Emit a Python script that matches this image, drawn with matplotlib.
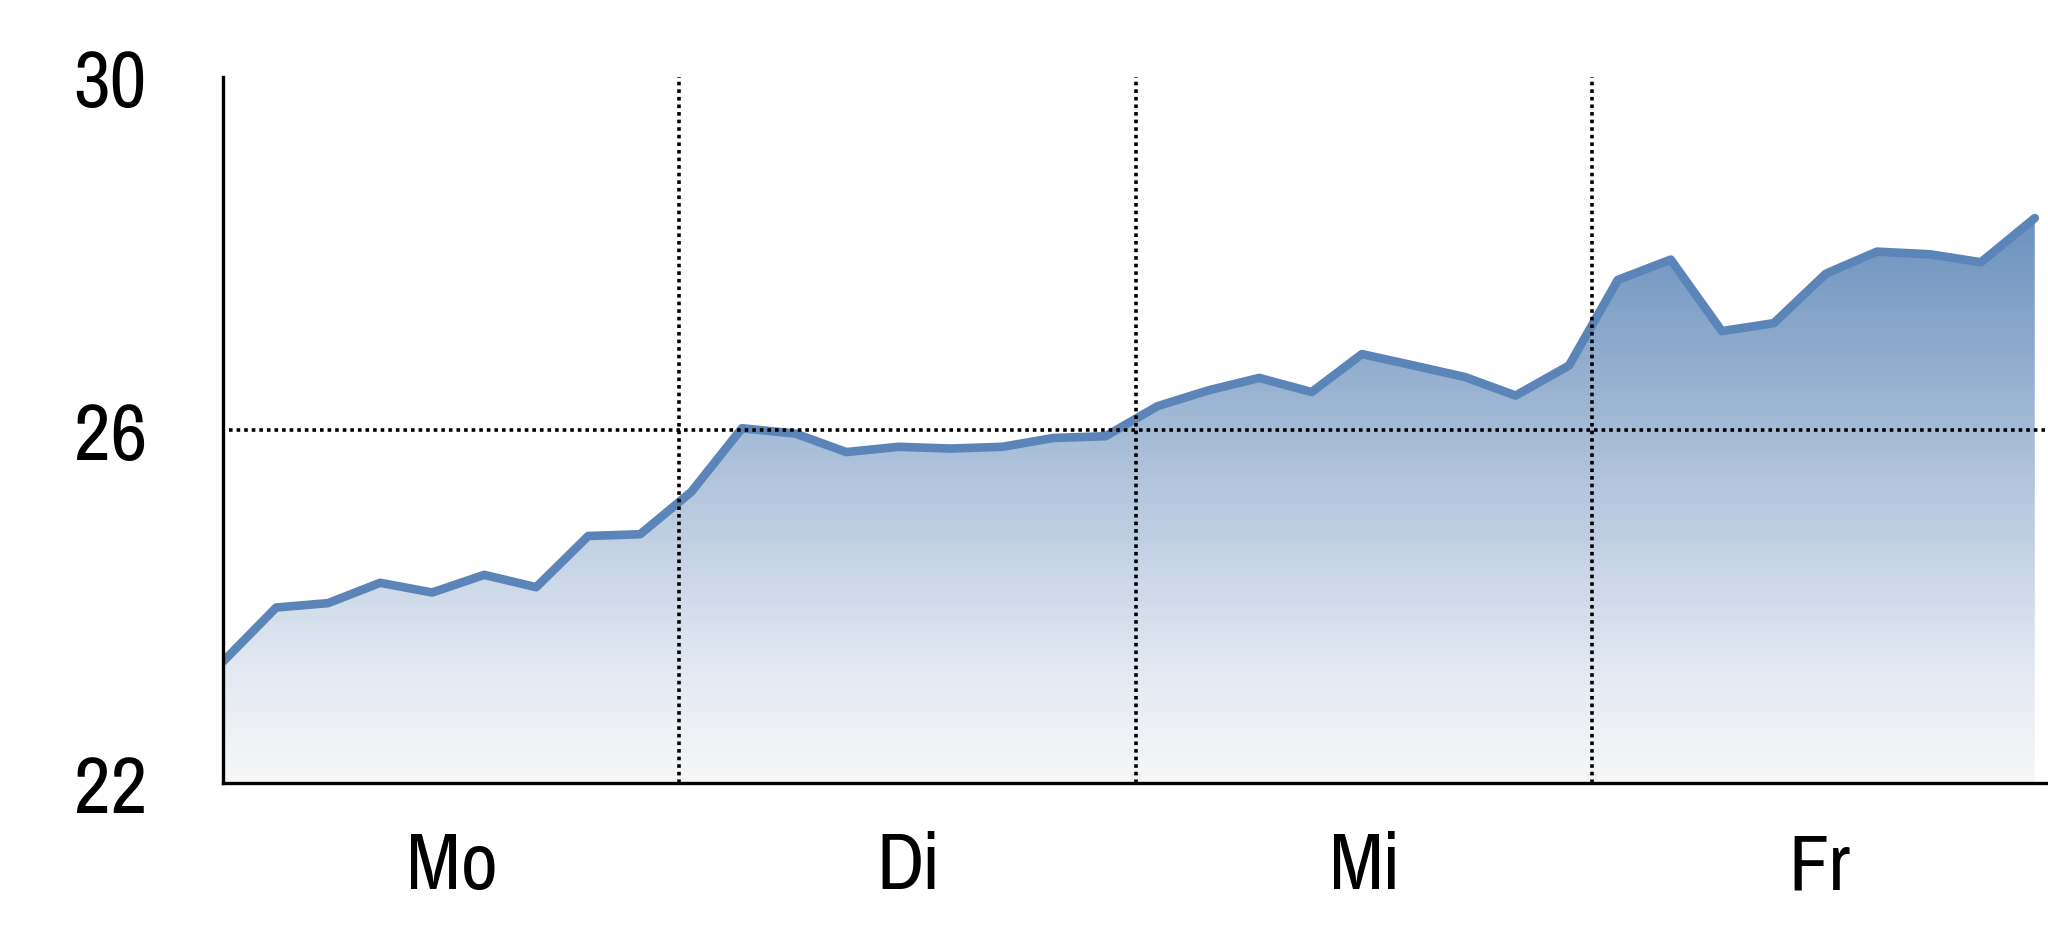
import numpy as np
import matplotlib
matplotlib.use("Agg")
import matplotlib.pyplot as plt
from matplotlib.colors import LinearSegmentedColormap

# time in days (0 = Monday 00:00)
days = [0.000, 0.116, 0.230, 0.344, 0.458, 0.572, 0.686, 0.800, 0.914, 1.026,
        1.137, 1.254, 1.366, 1.480, 1.594, 1.708, 1.820, 1.934, 2.048, 2.160,
        2.271, 2.386, 2.496, 2.610, 2.722, 2.833, 2.950, 3.057, 3.173, 3.285,
        3.399, 3.513, 3.625, 3.741, 3.853, 3.971]
values = [23.38, 23.99, 24.04, 24.27, 24.16, 24.36, 24.22, 24.80, 24.82, 25.30,
          26.02, 25.96, 25.75, 25.81, 25.79, 25.81, 25.91, 25.93, 26.27, 26.45,
          26.59, 26.43, 26.86, 26.73, 26.60, 26.39, 26.73, 27.70, 27.93, 27.12,
          27.21, 27.77, 28.02, 27.99, 27.90, 28.40]

day_labels = ["Mo", "Di", "Mi", "Fr"]
day_centers = [0.5, 1.5, 2.5, 3.5]
day_bounds = [1, 2, 3]
yticks = [22, 26, 30]

line_color = "#5b84b8"

fig = plt.figure(figsize=(20.48, 9.37), dpi=100)
ax = fig.add_axes([0.109, 0.163, 0.891, 0.754])

grad = LinearSegmentedColormap.from_list(
    "g", [(0, "#f7f7f7"), (0.2, "#e3e9f2"), (1, "#6b92be")])
img = ax.imshow(np.linspace(0, 1, 256).reshape(-1, 1), cmap=grad, aspect="auto",
                origin="lower", extent=[0, max(days), 22, max(values)], zorder=1)
poly = ax.fill_between(days, values, 22, color="none", lw=0)
img.set_clip_path(poly.get_paths()[0], transform=ax.transData)

ax.plot(days, values, color=line_color, lw=6.2, solid_capstyle="round",
        solid_joinstyle="round", zorder=3)

for b in day_bounds:
    ax.axvline(b, color="black", lw=2.6, ls=(0, (1, 1.1)), zorder=4)
ax.axhline(26, color="black", lw=2.6, ls=(0, (1, 1.1)), zorder=4, xmin=0.003)

ax.set_xlim(0, 4)
ax.set_ylim(22, 30)

font = ["Pragati Narrow", "Liberation Sans", "DejaVu Sans"]
ax.set_yticks(yticks)
ax.set_yticklabels([str(t) for t in yticks], fontsize=63, family=font)
ax.set_xticks(day_centers)
ax.set_xticklabels(day_labels, fontsize=63, family=font)
ax.tick_params(axis="y", length=0, pad=55)
ax.tick_params(axis="x", length=0, pad=34)

for s in ["top", "right"]:
    ax.spines[s].set_visible(False)
for s in ["left", "bottom"]:
    ax.spines[s].set_linewidth(2.4)
    ax.spines[s].set_zorder(5)

fig.savefig("out.png", dpi=100)
